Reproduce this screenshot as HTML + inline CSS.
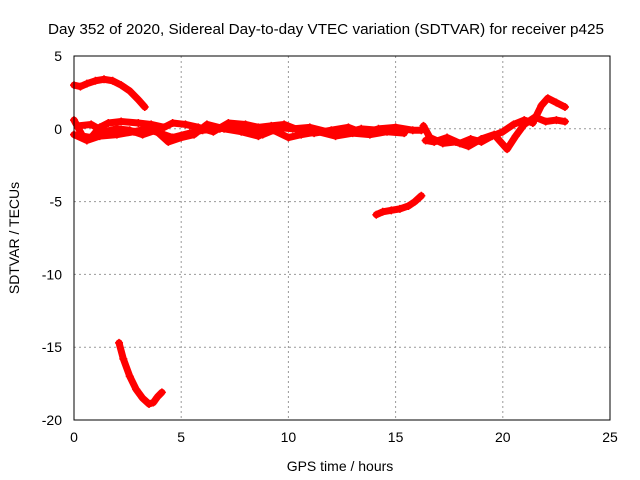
<!DOCTYPE html>
<html><head><meta charset="utf-8"><style>
body{margin:0;background:#fff}
svg{display:block;font-family:"Liberation Sans",sans-serif}
</style></head><body>
<svg id="chart" width="640" height="480">
<text x="326" y="34" font-size="15" text-anchor="middle" textLength="556" lengthAdjust="spacingAndGlyphs">Day 352 of 2020, Sidereal Day-to-day VTEC variation (SDTVAR) for receiver p425</text>
<text x="340" y="471" font-size="14" text-anchor="middle">GPS time / hours</text>
<text transform="translate(19,238) rotate(-90)" font-size="14" text-anchor="middle">SDTVAR / TECUs</text>
<g id="grid"></g><g id="ticks"></g><g id="series"></g>
<rect x="74" y="56" width="536" height="364" fill="none" stroke="#000"/>
</svg>
<script>
const xTicks=[0,5,10,15,20,25];
const yTicks=[5,0,-5,-10,-15,-20];
const trackTop=[[0,3.0],[0.3,2.9],[0.6,3.1],[1.0,3.3],[1.4,3.4],[1.8,3.3],[2.2,3.0],[2.6,2.6],[3.0,2.0],[3.3,1.5]];
const trackLow=[[2.1,-14.7],[2.3,-15.8],[2.6,-17.0],[2.9,-17.9],[3.2,-18.5],[3.5,-18.9],[3.7,-18.8],[3.9,-18.4],[4.1,-18.1]];
const trackMid=[[14.1,-5.9],[14.4,-5.7],[14.8,-5.6],[15.2,-5.5],[15.6,-5.3],[15.9,-5.0],[16.2,-4.6]];
const bandA=[[0,0.6],[0.4,-0.5],[0.8,-0.6],[1.2,0.1],[1.6,0.4],[2.2,0.5],[3,0.4],[3.6,0.3],[4.2,0.1],[4.6,0.4],[5.2,0.3],[5.8,0.1],[6.5,-0.2],[7.2,0.4],[8,0.3],[8.6,0.1],[9.2,0.2],[9.8,0.3],[10.5,-0.1],[11.2,-0.3],[12,-0.1],[12.8,0.1],[13.5,-0.3],[14.2,0.0],[15,0.1],[15.8,-0.1],[16.2,-0.1]];
const bandB=[[0,-0.4],[0.6,-0.8],[1.2,-0.5],[2,-0.4],[2.8,-0.2],[3.4,0.0],[4,-0.3],[4.6,-0.6],[5.4,-0.3],[6,-0.1],[6.8,0.0],[7.4,0.2],[8.2,-0.1],[8.8,-0.4],[9.3,-0.1],[10,-0.6],[10.6,-0.4],[11.4,-0.2],[12.2,-0.5],[13,-0.3],[13.8,-0.4],[14.6,-0.2],[15.4,-0.3]];
const bandC=[[0.2,0.2],[0.8,0.3],[1.4,-0.2],[2,0.0],[2.6,-0.1],[3.2,-0.4],[3.8,-0.1],[4.4,-0.9],[5,-0.6],[5.6,-0.4],[6.2,0.3],[7,0.0],[7.8,-0.2],[8.6,-0.5],[9.4,0.1],[10.2,0.0],[11,0.1],[11.8,-0.2],[12.6,-0.3],[13.4,0.0],[14.2,-0.1]];
const bandD=[[16.4,-0.8],[16.8,-0.9],[17.4,-0.6],[18,-1.0],[18.5,-0.7],[19,-0.9],[19.5,-0.5],[20,-0.2],[20.5,0.3],[21,0.6],[21.4,0.4],[21.8,1.6],[22.1,2.1],[22.5,1.8],[22.9,1.5]];
const bandE=[[16.3,0.2],[16.6,-0.6],[17.2,-1.0],[17.8,-0.9],[18.4,-1.2],[19,-0.7],[19.6,-0.4],[20.2,-1.4],[20.6,-0.5],[21,0.3],[21.5,0.8],[22,0.5],[22.5,0.6],[22.9,0.5]];
const tracks=[trackTop,trackLow,trackMid,bandA,bandB,bandC,bandD,bandE];
const xs=t=>74+t*(536/25);
const ys=v=>56+(5-v)*(364/25);
const NS="http://www.w3.org/2000/svg";
const grid=document.getElementById('grid'),ticks=document.getElementById('ticks'),ser=document.getElementById('series');
function mk(tag,attrs,parent){const e=document.createElementNS(NS,tag);for(const k in attrs)e.setAttribute(k,attrs[k]);parent.appendChild(e);return e;}
xTicks.forEach(t=>{
 const x=xs(t);
 if(t>0&&t<25){const g=mk('line',{x1:x,x2:x,y1:56,y2:420,stroke:'#999','stroke-dasharray':'2,3'},grid);
 
 }
 const l=mk('text',{x:x,y:442,'font-size':14,'text-anchor':'middle'},ticks);l.textContent=t;
 
 
});
yTicks.forEach(v=>{
 const y=ys(v);
 if(v<5&&v>-20){const g=mk('line',{x1:74,x2:610,y1:y,y2:y,stroke:'#999','stroke-dasharray':'2,3'},grid);
 
 }
 const l=mk('text',{x:62,y:y+5,'font-size':14,'text-anchor':'end'},ticks);l.textContent=v;
 
 
});
tracks.forEach(tr=>{
 const p=mk('polyline',{points:tr.map(d=>xs(d[0])+','+ys(d[1])).join(' '),fill:'none',stroke:'#f00','stroke-width':7,'stroke-linejoin':'round','stroke-linecap':'round'},ser);
 
 
 tr.forEach(d=>{const x=xs(d[0]),y=ys(d[1]);
  const m=mk('path',{d:`M${x-4},${y}H${x+4}M${x},${y-4}V${y+4}`,stroke:'#f00','stroke-width':1.5},ser);
  
  });
});
</script>
</body></html>
